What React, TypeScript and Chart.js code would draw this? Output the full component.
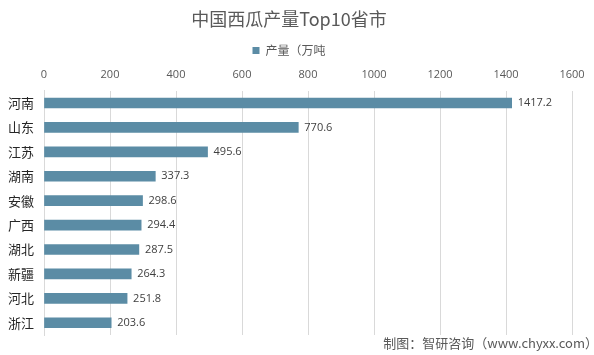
import React, { useEffect, useRef } from "react";
import { Chart, registerables } from "chart.js";
Chart.register(...registerables);

const categories = ["河南", "山东", "江苏", "湖南", "安徽", "广西", "湖北", "新疆", "河北", "浙江"];
const production = [1417.2, 770.6, 495.6, 337.3, 298.6, 294.4, 287.5, 264.3, 251.8, 203.6];
const seriesName = "产量（万吨";
const titleText = "中国西瓜产量Top10省市";
const sourceText = "制图：智研咨询（www.chyxx.com）";

const CJK = "'Noto Sans CJK SC', 'Noto Sans', sans-serif";
const NUM = "'Open Sans', 'Noto Sans CJK SC', sans-serif";

const valueLabels = {
  id: "valueLabels",
  afterDatasetsDraw(chart: any) {
    const ctx = chart.ctx;
    const meta = chart.getDatasetMeta(0);
    ctx.save();
    ctx.font = `11px ${NUM}`;
    ctx.fillStyle = "#404040";
    ctx.textAlign = "left";
    ctx.textBaseline = "middle";
    meta.data.forEach((bar: any, i: number) => {
      ctx.fillText(production[i].toFixed(1), bar.x + 6, bar.y);
    });
    ctx.restore();
  },
};

const sourceCaption = {
  id: "sourceCaption",
  afterDraw(chart: any) {
    const ctx = chart.ctx;
    ctx.save();
    ctx.font = `13px ${CJK}`;
    ctx.fillStyle = "#595959";
    ctx.textAlign = "right";
    ctx.textBaseline = "middle";
    ctx.fillText(sourceText, chart.width + 4, chart.height - 12);
    ctx.restore();
  },
};

export default function App() {
  const ref = useRef<HTMLCanvasElement>(null);
  useEffect(() => {
    document.body.style.margin = "0";
    const chart = new Chart(ref.current!, {
      type: "bar",
      data: {
        labels: categories,
        datasets: [
          {
            label: seriesName,
            data: production,
            backgroundColor: "#5b8ca5",
            borderWidth: 0,
            barThickness: 10,
          },
        ],
      },
      options: {
        indexAxis: "y",
        animation: false,
        responsive: false,
        maintainAspectRatio: false,
        layout: { padding: { left: 6, right: 22, top: 6, bottom: 20 } },
        plugins: {
          title: {
            display: true,
            text: titleText,
            color: "#595959",
            font: { family: CJK, size: 18, weight: "normal" },
            padding: { top: 2, bottom: 15 },
          },
          legend: {
            display: true,
            labels: {
              boxWidth: 7,
              boxHeight: 7,
              color: "#595959",
              font: { family: CJK, size: 12 },
              padding: 0,
            },
          },
          tooltip: { enabled: false },
        },
        scales: {
          x: {
            position: "top",
            min: 0,
            max: 1600,
            ticks: {
              stepSize: 200,
              color: "#595959",
              font: { family: NUM, size: 11 },
              padding: 9,
              callback: (v: any) => String(v),
            },
            grid: { color: "#d9d9d9", drawTicks: false },
            border: { display: false },
            afterFit(scale: any) {
              scale.height -= 7;
            },
          },
          y: {
            ticks: {
              color: "#262626",
              font: { family: CJK, size: 13 },
              padding: 10,
            },
            grid: { display: false, drawTicks: false },
            border: { display: true, color: "#d9d9d9" },
            afterFit(scale: any) {
              scale.width = 38;
            },
          },
        },
      },
      plugins: [valueLabels, sourceCaption],
    });
    return () => chart.destroy();
  }, []);
  return (
    <div style={{ position: "absolute", left: 0, top: 0, width: 594, height: 355, background: "#fff" }}>
      <canvas ref={ref} width={594} height={355} />
    </div>
  );
}
